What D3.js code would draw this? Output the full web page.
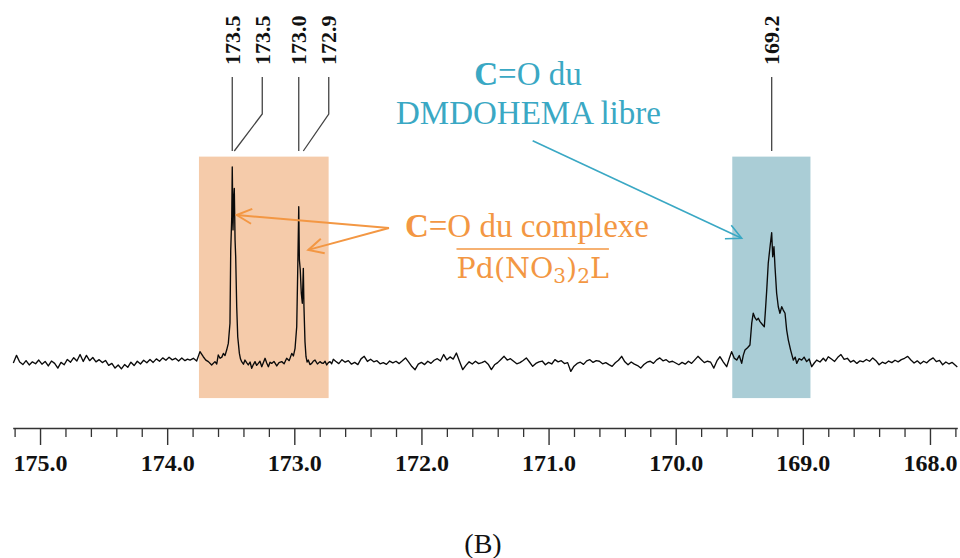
<!DOCTYPE html>
<html><head><meta charset="utf-8">
<script src="https://cdn.jsdelivr.net/npm/d3@7"></script>
<style>html,body{margin:0;padding:0;background:#fff;} svg{display:block;}</style>
</head><body>
<svg id="chart" width="960" height="558"></svg>
<script>
// ---- data: 13C NMR trace, [ppm, relative intensity %] ----
const noiseLeft = [[175.210,0.0],[175.185,3.9],[175.160,0.5],[175.135,-0.8],[175.110,1.2],[175.085,-1.0],[175.060,0.6],[175.035,-0.4],[175.010,1.5],[174.985,-0.6],[174.960,0.8],[174.935,-1.5],[174.910,1.0],[174.885,-0.2],[174.860,-2.6],[174.835,0.3],[174.810,-0.9],[174.785,1.8],[174.760,0.4],[174.735,2.7],[174.710,1.0],[174.685,4.3],[174.660,0.8],[174.635,3.9],[174.610,1.2],[174.585,2.8],[174.560,0.6],[174.535,1.7],[174.510,0.2],[174.485,1.3],[174.460,-1.2],[174.435,-0.2],[174.410,-2.6],[174.385,-1.0],[174.360,-3.0],[174.335,-0.8],[174.310,-2.2],[174.285,0.4],[174.260,-1.3],[174.235,0.9],[174.210,-0.5],[174.185,1.4],[174.160,0.1],[174.135,1.8],[174.110,0.3],[174.085,2.1],[174.060,0.9],[174.035,2.6],[174.010,1.4],[173.985,2.9],[173.960,1.6],[173.935,2.4],[173.910,1.0],[173.885,2.6],[173.860,1.2],[173.840,2.0]];
const peakComplex = [[173.820,1.5],[173.794,2.4],[173.768,1.0],[173.742,5.8],[173.716,3.2],[173.696,1.5],[173.676,0.7],[173.650,-1.0],[173.624,0.7],[173.610,-0.5],[173.598,4.1],[173.584,2.4],[173.570,3.0],[173.558,4.9],[173.545,3.8],[173.532,6.6],[173.519,10.0],[173.506,20.3],[173.500,57.7],[173.492,74.6],[173.488,100],[173.482,67.9],[173.477,83.2],[173.472,89.1],[173.466,62.8],[173.461,54.2],[173.453,28.7],[173.445,13.4],[173.432,4.9],[173.423,2.0],[173.414,0.7],[173.400,-0.6],[173.388,1.5],[173.375,0.2],[173.362,-1.0],[173.348,0.5],[173.335,-2.7],[173.322,-0.8],[173.309,0.7],[173.296,-1.2],[173.283,-0.2],[173.270,0.9],[173.256,-1.9],[173.243,0.3],[173.230,2.4],[173.217,0.0],[173.204,-1.9],[173.191,0.4],[173.178,-0.2],[173.160,0.8],[173.138,-1.5],[173.120,0.2],[173.099,0.7],[173.080,-0.4],[173.060,2.4],[173.040,1.2],[173.020,4.9],[173.007,3.6],[172.994,7.5],[172.981,18.5],[172.973,47.4],[172.965,79.7],[172.960,52.6],[172.953,47.4],[172.945,35.6],[172.937,30.5],[172.929,48.3],[172.924,28.7],[172.916,10.9],[172.908,3.2],[172.899,0.5],[172.890,1.5],[172.877,-0.8],[172.863,-0.2],[172.850,1.0],[172.837,1.5],[172.818,-0.5],[172.798,0.7],[172.785,0.0],[172.772,-0.2],[172.758,0.9],[172.745,-1.0],[172.732,0.2],[172.719,0.7],[172.706,-0.4],[172.693,1.9]];
const noiseMiddle = [[172.675,0.9],[172.650,-0.3],[172.625,1.7],[172.600,0.4],[172.575,1.2],[172.550,-0.6],[172.525,0.3],[172.500,-0.8],[172.475,2.1],[172.450,3.4],[172.425,0.8],[172.400,1.9],[172.375,0.6],[172.350,1.2],[172.325,-0.4],[172.300,0.2],[172.275,-0.7],[172.250,1.0],[172.225,0.1],[172.200,0.9],[172.175,-0.3],[172.150,1.1],[172.125,2.6],[172.100,0.4],[172.075,-1.8],[172.050,-3.4],[172.025,-0.6],[172.000,0.3],[171.975,-0.8],[171.950,0.9],[171.925,-0.2],[171.900,1.4],[171.875,2.2],[171.850,1.0],[171.825,4.3],[171.800,1.6],[171.775,3.1],[171.750,2.0],[171.725,5.1],[171.700,0.8],[171.675,-3.4],[171.650,-1.2],[171.625,0.6],[171.600,-0.5],[171.575,0.9],[171.550,-0.3],[171.525,0.2],[171.500,0.9],[171.475,-0.6],[171.450,-3.4],[171.425,-0.9],[171.400,0.2],[171.375,1.8],[171.350,3.4],[171.325,1.5],[171.300,2.2],[171.275,0.9],[171.250,-0.4],[171.225,0.2],[171.200,1.3],[171.175,2.6],[171.150,0.5],[171.125,-1.7],[171.100,-0.2],[171.075,0.6],[171.050,1.0],[171.025,-0.9],[171.000,0.3],[170.975,-0.5],[170.950,1.7],[170.925,0.6],[170.900,1.2],[170.875,-0.3],[170.850,0.2],[170.825,-4.3],[170.800,-1.6],[170.775,-0.2],[170.750,0.4],[170.725,-0.7],[170.700,1.1],[170.675,1.7],[170.650,0.3],[170.625,1.2],[170.600,0.9],[170.575,-0.4],[170.550,0.2],[170.525,-0.8],[170.500,-1.7],[170.475,0.1],[170.450,1.4],[170.425,3.4],[170.400,0.6],[170.375,-0.9],[170.350,0.5],[170.325,-0.6],[170.300,-1.3],[170.275,-2.6],[170.250,-0.8],[170.225,0.4],[170.200,0.9],[170.175,-0.2],[170.150,1.6],[170.125,2.6],[170.100,1.1],[170.075,1.7],[170.050,0.4],[170.025,0.9],[170.000,0.0],[169.975,-0.9],[169.950,0.3],[169.925,-0.6],[169.900,0.9],[169.875,-0.2],[169.850,1.6],[169.825,3.4],[169.800,1.8],[169.775,0.2],[169.750,0.9],[169.725,0.4],[169.700,-2.6],[169.675,1.2]];
const peakFree = [[169.652,3.2],[169.625,0.5],[169.599,-1.9],[169.580,2.0],[169.560,5.8],[169.540,2.5],[169.520,1.5],[169.500,3.8],[169.481,-0.2],[169.468,4.0],[169.455,6.6],[169.435,7.8],[169.416,9.2],[169.402,20.3],[169.390,25.4],[169.376,23.0],[169.363,21.9],[169.350,22.8],[169.337,21.1],[169.320,19.8],[169.303,18.5],[169.294,27.0],[169.284,37.2],[169.272,50.9],[169.258,59.3],[169.245,66.5],[169.237,54.2],[169.227,59.3],[169.219,49.1],[169.206,35.6],[169.193,28.7],[169.180,25.4],[169.166,28.7],[169.154,27.0],[169.140,25.4],[169.127,16.8],[169.114,11.7],[169.096,6.6],[169.075,1.5],[169.060,3.0],[169.048,-0.2],[169.030,2.2],[169.009,1.5],[168.990,3.0],[168.970,0.7],[168.950,2.0],[168.930,-1.9],[168.910,0.0],[168.891,1.5],[168.865,0.5],[168.839,2.4],[168.820,1.0],[168.800,3.2]];
const noiseRight = [[168.775,2.0],[168.750,0.8],[168.725,2.9],[168.700,4.3],[168.675,1.9],[168.650,2.4],[168.625,0.5],[168.600,1.3],[168.575,-0.2],[168.550,1.1],[168.525,0.6],[168.500,1.8],[168.475,0.9],[168.450,2.6],[168.425,1.2],[168.400,-0.9],[168.375,0.4],[168.350,-0.3],[168.325,1.0],[168.300,0.2],[168.275,1.4],[168.250,0.6],[168.225,1.7],[168.200,2.4],[168.175,3.4],[168.150,1.5],[168.125,0.0],[168.100,1.1],[168.075,-0.4],[168.050,0.9],[168.025,0.1],[168.000,1.6],[167.975,2.6],[167.950,0.7],[167.925,1.3],[167.900,-0.9],[167.875,0.5],[167.850,-0.5],[167.825,0.3],[167.800,-1.2],[167.785,-2.0]];

const majorTicks = [175, 174, 173, 172, 171, 170, 169, 168];
const tickLabels = ["175.0", "174.0", "173.0", "172.0", "171.0", "170.0", "169.0", "168.0"];
const minorTicks = [175.2, 174.8, 174.6, 174.4, 174.2, 173.8, 173.6, 173.4, 173.2, 172.8, 172.6, 172.4, 172.2, 171.8, 171.6, 171.4, 171.2, 170.8, 170.6, 170.4, 170.2, 169.8, 169.6, 169.4, 169.2, 168.8, 168.6, 168.4, 168.2, 167.8];
const peakLabelText = ["173.5", "173.5", "173.0", "172.9", "169.2"];
const peakLabelPpm = [173.488, 173.472, 172.965, 172.929, 169.245];
const regionFrom = [173.75, 169.555];
const regionTo = [172.73, 168.94];
const regionTop = 105.3, regionBottom = -17.9;

const ORANGE_FILL = "#F5CBAA", BLUE_FILL = "#AACDD6";
const ORANGE = "#F39743", BLUE = "#3AA8C4";
const SERIF = "'Liberation Serif','Times New Roman',serif";

// ---- scales ----
const svg = d3.select("#chart");
const x = d3.scaleLinear().domain([175.215, 167.785]).range([12.7, 957.3]);
const y = d3.scaleLinear().domain([0, 100]).range([363, 167]);

// ---- shaded regions ----
const regionFills = [ORANGE_FILL, BLUE_FILL];
svg.append("g").selectAll("rect").data(regionFrom).join("rect")
  .attr("x", (d) => x(d))
  .attr("width", (d, i) => x(regionTo[i]) - x(d))
  .attr("y", y(regionTop))
  .attr("height", y(regionBottom) - y(regionTop))
  .attr("fill", (d, i) => regionFills[i]);

// ---- spectrum ----
const trace = [].concat(noiseLeft, peakComplex, noiseMiddle, peakFree, noiseRight);
svg.append("path").datum(trace)
  .attr("d", d3.line().x(d => x(d[0])).y(d => y(d[1])))
  .attr("fill", "none").attr("stroke", "#0a0a0a").attr("stroke-width", 1.35)
  .attr("stroke-linejoin", "round");

// ---- axis ----
const axisY = 428;
const gMinor = svg.append("g").attr("transform", `translate(0,${axisY})`)
  .call(d3.axisBottom(x).tickValues(minorTicks).tickSize(9).tickFormat(""));
gMinor.select(".domain").remove();
gMinor.selectAll("line").attr("stroke", "#333").attr("stroke-width", 1.3);
const gMajor = svg.append("g").attr("transform", `translate(0,${axisY})`)
  .call(d3.axisBottom(x).tickValues(majorTicks).tickSize(17).tickSizeOuter(0).tickPadding(9)
    .tickFormat((d, i) => tickLabels[i]));
gMajor.select(".domain").attr("stroke", "#333").attr("stroke-width", 1.5);
gMajor.selectAll("line").attr("stroke", "#333").attr("stroke-width", 1.4);
gMajor.selectAll("text").attr("fill", "#111")
  .style("font-family", SERIF).style("font-size", "24px").style("font-weight", "bold");

// ---- peak labels ----
let prev = -Infinity;
const labels = peakLabelPpm.map((p, i) => {
  const px = x(p);
  const lx = Math.max(px, prev + 30);
  prev = lx;
  return { text: peakLabelText[i], px, lx };
});
const gl = svg.append("g");
gl.selectAll("path").data(labels).join("path")
  .attr("d", d => `M${d.lx},77 L${d.lx},114 L${d.px},151`)
  .attr("fill", "none").attr("stroke", "#444").attr("stroke-width", 1.3);
gl.selectAll("text").data(labels).join("text")
  .attr("transform", d => `translate(${d.lx},65) rotate(-90)`)
  .attr("dy", "0.35em")
  .attr("fill", "#111")
  .style("font-family", SERIF).style("font-size", "22px").style("font-weight", "bold")
  .text(d => d.text);

// ---- arrows ----
const defs = svg.append("defs");
function marker(id, color, w) {
  defs.append("marker").attr("id", id).attr("markerUnits", "userSpaceOnUse")
    .attr("viewBox", "-18 -10 20 20").attr("refX", 0).attr("refY", 0)
    .attr("markerWidth", 20).attr("markerHeight", 20).attr("orient", "auto")
    .append("path").attr("d", "M-15,-7.5 L0,0 L-15,7.5")
    .attr("fill", "none").attr("stroke", color).attr("stroke-width", w);
}
marker("arrO", ORANGE, 2);
marker("arrB", BLUE, 1.6);
const arrows = [
  { from: [172.255, 68.9], to: [173.453, 75.5], color: ORANGE, w: 2, m: "arrO" },
  { from: [172.255, 68.9], to: [172.890, 57.7], color: ORANGE, w: 2, m: "arrO" },
  { from: [171.125, 113.4], to: [169.481, 63.6], color: BLUE, w: 1.6, m: "arrB" }
];
svg.append("g").selectAll("line").data(arrows).join("line")
  .attr("x1", d => x(d.from[0])).attr("y1", d => y(d.from[1]))
  .attr("x2", d => x(d.to[0])).attr("y2", d => y(d.to[1]))
  .attr("stroke", d => d.color).attr("stroke-width", d => d.w)
  .attr("marker-end", d => `url(#${d.m})`);

// ---- annotation texts ----
function boldC(ppm, val, rest, color) {
  const t = svg.append("text").attr("x", x(ppm)).attr("y", y(val))
    .attr("text-anchor", "middle").attr("fill", color)
    .style("font-family", SERIF).style("font-size", "33px");
  t.append("tspan").attr("font-weight", "bold").text("C");
  t.append("tspan").text(rest);
  return t;
}
boldC(171.162, 141.8, "=O du", BLUE);
svg.append("text").attr("x", x(171.158)).attr("y", y(121.9))
  .attr("text-anchor", "middle").attr("fill", BLUE)
  .style("font-family", SERIF).style("font-size", "33px").text("DMDOHEMA libre");
boldC(171.170, 64.4, "=O du complexe", ORANGE);

const pd = svg.append("text").attr("x", x(171.125)).attr("y", y(43.2))
  .attr("text-anchor", "middle").attr("fill", ORANGE)
  .style("font-family", "'DejaVu Serif',serif").style("font-size", "28.5px");
pd.append("tspan").text("Pd(NO");
pd.append("tspan").attr("dy", 5).style("font-size", "20px").text("3");
pd.append("tspan").attr("dy", -5).text(")");
pd.append("tspan").attr("dy", 5).style("font-size", "20px").text("2");
pd.append("tspan").attr("dy", -5).text("L");
const bb = pd.node().getBBox();
svg.append("line").attr("x1", bb.x).attr("x2", bb.x + bb.width)
  .attr("y1", y(58.2)).attr("y2", y(58.2))
  .attr("stroke", ORANGE).attr("stroke-width", 1.5);

// ---- panel caption ----
svg.append("text").attr("x", 483).attr("y", 553).attr("text-anchor", "middle")
  .attr("fill", "#111").style("font-family", SERIF).style("font-size", "28px").text("(B)");
</script>
</body></html>
